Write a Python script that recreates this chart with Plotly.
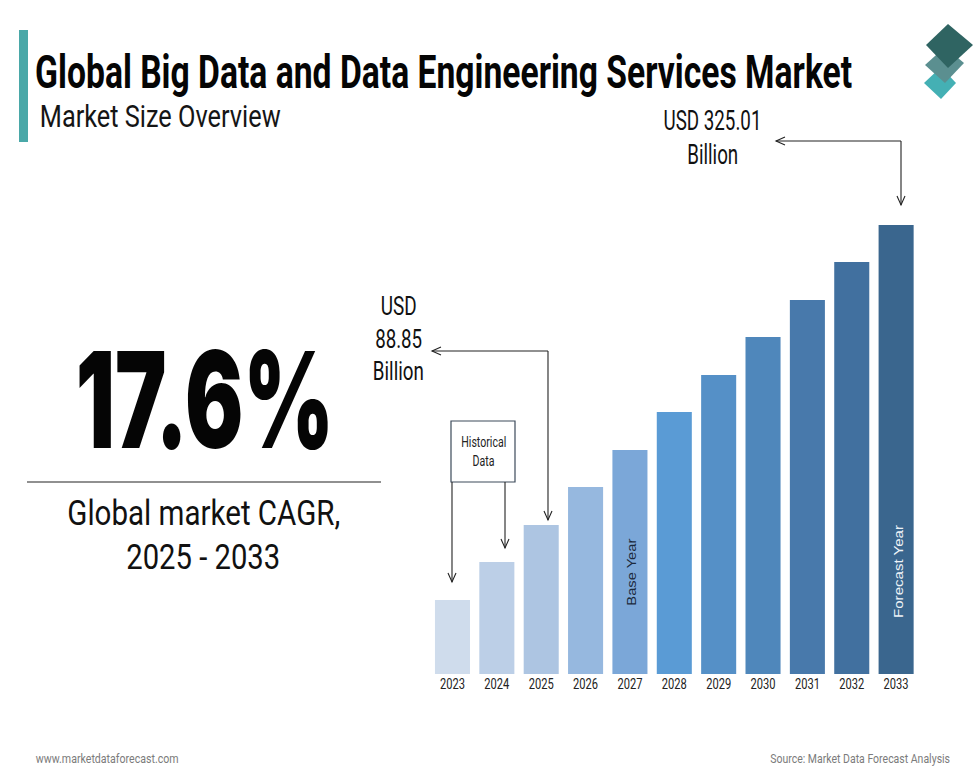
import json
import plotly.graph_objects as go

years = ["2023","2024","2025","2026","2027","2028","2029","2030","2031","2032","2033"]
market_size = [53.6, 81.1, 107.9, 135.4, 162.1, 189.6, 216.4, 243.9, 270.7, 298.2, 325.01]
bar_colors = ["#cfdcec","#bccfe7","#adc5e2","#96b8df","#7ba7d8","#5a9bd5","#5590c7","#4f87bb","#4879ab","#41709f","#3a668e"]

W, H = 980, 777
FONT = "Roboto"
def X(p): return p / W
def Y(p): return 1 - p / H

fig = go.Figure(go.Bar(x=years, y=market_size, marker=dict(color=bar_colors, line_width=0), width=0.79,
                       hoverinfo="x+y"))

fit = {}
def text(x0, x1, y, s, size, color="#111111", family=FONT, weight=400):
    """Text centred in the pixel span x0..x1 and fitted to its width."""
    fit[s] = abs(x1 - x0)
    fig.add_annotation(xref="paper", yref="paper", x=X((x0 + x1) / 2), y=Y(y), text=s, showarrow=False,
                       font=dict(size=size, color=color, family=family, weight=weight),
                       borderpad=0, xanchor="center", yanchor="middle", align="center")

def rotated(x, y0, y1, s, size, color, family):
    fit[s] = abs(y1 - y0)
    fig.add_annotation(xref="paper", yref="paper", x=X(x), y=Y((y0 + y1) / 2), text=s, showarrow=False,
                       font=dict(size=size, color=color, family=family),
                       borderpad=0, xanchor="center", yanchor="middle", textangle=-90)

def path(points, color="#222222", width=1.1, fill=None, close=False):
    d = "M " + " L ".join(f"{X(a):.5f} {Y(b):.5f}" for a, b in points) + (" Z" if close else "")
    fig.add_shape(type="path", xref="paper", yref="paper", path=d,
                  line=dict(color=color, width=width) if width else dict(width=0),
                  fillcolor=fill, layer="above")

def arrow(points):
    path(points)
    (x0, y0), (x1, y1) = points[-2], points[-1]
    s = 9; w = 4
    if x0 == x1:
        d = 1 if y1 > y0 else -1
        path([(x1 - w, y1 - d * s), (x1, y1), (x1 + w, y1 - d * s)])
    else:
        d = 1 if x1 > x0 else -1
        path([(x1 - d * s, y1 - w), (x1, y1), (x1 - d * s, y1 + w)])

# Accent bar and title
path([(19, 30), (28, 30), (28, 142), (19, 142)], width=0, fill="#4aa8a8", close=True)
text(35, 852, 71, "Global Big Data and Data Engineering Services Market", 47, "#050505", weight=700)
text(39, 280, 116, "Market Size Overview", 32, "#151515")

# Logo
path([(924, 83), (941, 67), (956, 83), (941, 99)], width=0, fill="#44b0b4", close=True)
path([(925, 65), (945, 47), (964, 63), (945, 83)], width=0, fill="#5b8f90", close=True)
path([(926, 45), (948, 24), (973, 45), (948, 68)], width=0, fill="#2f6462", close=True)

# CAGR panel
text(76, 334, 399, "17.6%", 134, "#050505", family="Inter", weight=900)
path([(27, 482), (381, 482)], color="#222222", width=1.2)
text(67, 340, 513, "Global market CAGR,", 35)
text(126, 280, 557, "2025 - 2033", 35)

# Callouts
text(663, 761, 121, "USD 325.01", 27)
text(687, 738, 155, "Billion", 27)
arrow([(901, 141), (776, 141)])
arrow([(901, 141), (901, 205)])

text(380, 416, 306, "USD", 26)
text(375, 422, 339, "88.85", 26)
text(373, 424, 371, "Billion", 26)
arrow([(548, 351), (432, 351)])
arrow([(548, 351), (548, 520)])

# Historical box
path([(451, 421), (515, 421), (515, 482), (451, 482)], color="#3c4a5a", width=1.2, fill="#ffffff", close=True)
text(461, 506, 442, "Historical", 14, "#222222")
text(472, 494, 461, "Data", 14, "#222222")
arrow([(452, 482), (452, 582)])
arrow([(505, 482), (505, 548)])

# Bar labels
rotated(632, 539, 606, "Base Year", 12, "#1b2a3c", "Liberation Sans")
rotated(899, 525, 618, "Forecast Year", 12, "#eef3f8", "Liberation Sans")

# Footer
text(35, 178, 758, "www.marketdataforecast.com", 12.5, "#7b7b7b")
text(770, 950, 758, "Source: Market Data Forecast Analysis", 12.5, "#7b7b7b")

fig.update_layout(
    width=W, height=H, margin=dict(l=0, r=0, t=0, b=0),
    paper_bgcolor="#ffffff", plot_bgcolor="#ffffff", showlegend=False, bargap=0.21,
    xaxis=dict(domain=[X(430.3), X(918.3)], type="category", categoryorder="array", categoryarray=years,
               showgrid=False, zeroline=False, showline=False, ticks="",
               tickfont=dict(size=14, color="#222222", family=FONT), tickangle=0),
    yaxis=dict(domain=[Y(674), Y(225)], range=[0, 325.01], visible=False, showgrid=False),
)

# Condense the Roboto glyphs to the narrow widths of the reference, keeping real text.
post = """
document.body.style.margin = '0';
(function () {
  var fit = %s;
  function squeeze(t, w) {
    var n = t.getComputedTextLength();
    if (!n) return;
    var cx = parseFloat(t.getAttribute('x')) || 0, k = w / n;
    t.setAttribute('transform', 'translate(' + cx + ',0) scale(' + k + ',1) translate(' + (-cx) + ',0)');
  }
  function apply() {
    document.querySelectorAll('text.annotation-text').forEach(function (t) {
      var w = fit[t.textContent];
      if (w) squeeze(t, w);
    });
    document.querySelectorAll('.xtick text').forEach(function (t) {
      t.setAttribute('textLength', 25); t.setAttribute('lengthAdjust', 'spacingAndGlyphs');
    });
  }
  apply();
  var gd = document.querySelector('.plotly-graph-div');
  if (gd && gd.on) { gd.on('plotly_afterplot', apply); }
  setTimeout(apply, 30);
  setTimeout(apply, 200);
})();
""" % json.dumps(fit)
fig.write_html("out.html", post_script=post, config={"displayModeBar": False})
